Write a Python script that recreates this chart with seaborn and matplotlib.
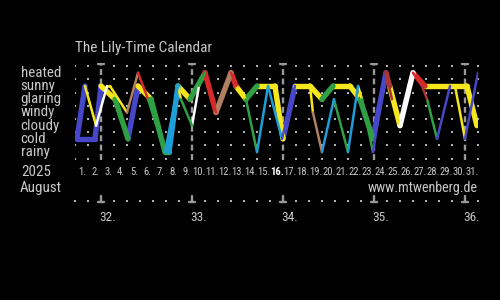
import numpy as np
import pandas as pd
import matplotlib
matplotlib.use("Agg")
import matplotlib.pyplot as plt
from matplotlib import font_manager
import seaborn as sns

# ---------------- data ----------------
levels = ["rainy", "cold", "cloudy", "windy", "glaring", "sunny", "heated"]
month_label = "August"
year_label = "2025"
title = "The Lily-Time Calendar"
site = "www.mtwenberg.de"
day_numbers = list(range(1, 32))
today = 16
week_numbers = [32, 33, 34, 35, 36]
week_days = [3, 10, 17, 24, 31]  # Sundays

# thick (main) course
thick_day = [0.65, 2.04, 2.5, 3.58, 4.58, 5.35, 6.35, 7.42, 7.73, 8.42, 9.35, 10.5,
             11.35, 12.5, 12.88, 13.65, 14.5, 15.88, 16.5, 17.42, 18.58, 19.5, 20.35,
             21.65, 22.42, 23.42, 24.42, 24.7, 25.5, 26.5, 27.42, 30.65, 31.42]
thick_level = [1, 1, 5, 4, 1, 5, 4, 0, 0, 5, 4, 6, 3, 6, 5, 4, 5, 5, 1, 5, 5, 4, 5,
               5, 4, 1, 6, 5, 2, 6, 5, 5, 2]
thick_kind = list("bbygbyggcygrnrygyybyygyygbdywryy")

# short thick start stroke
early_day = [0.65, 1.27]
early_level = [1, 5]
early_kind = list("b")

# thin (secondary) course
thin_day = [1.27, 2.12, 2.96, 3.19, 4.5, 5.35, 6.12, 7.42, 8.42, 8.65, 9.5, 10.04,
            10.5, 11.35, 12.5, 12.88, 13.65, 14.5, 15.35, 16.42, 17.42, 18.58, 18.8,
            19.5, 20.42, 21.5, 22.27, 22.58, 23.42, 24.42, 24.88, 25.5, 26.5, 27.19,
            27.58, 28.35, 29.35, 29.73, 30.5, 31.5]
thin_level = [5, 2, 5, 5, 3, 6, 4, 0, 5, 4, 2, 5, 6, 3, 6, 5, 4, 0, 5, 1, 5, 5, 3,
              0, 4, 0, 5, 4, 0, 6, 4, 2, 6, 5, 4, 1, 5, 5, 1, 6]
thin_kind = list("ywyynrgcygwgrnrygccbyyncgcygbdywrdgbyyb")

palette = {"b": "#4646c8", "y": "#f5e61e", "g": "#2ea043", "c": "#1e9ed8",
           "r": "#d42a2a", "n": "#b08060", "w": "#ffffff", "d": "#a83434"}


def seg_frame(days, lv, kinds):
    rows = []
    for i, k in enumerate(kinds):
        rows.append((i, days[i], lv[i], k))
        rows.append((i, days[i + 1], lv[i + 1], k))
    return pd.DataFrame(rows, columns=["seg", "day", "level", "kind"])


# ---------------- figure ----------------
sns.set_style("dark")
installed = {f.name for f in font_manager.fontManager.ttflist}
narrow = None
for cand in ["Liberation Sans Narrow", "DejaVu Sans Condensed", "Roboto Condensed",
             "Open Sans Condensed"]:
    if cand in installed:
        narrow = cand
        break
plt.rcParams["font.family"] = [narrow or "DejaVu Sans", "DejaVu Sans"]
day_fs = 7.7 if narrow else 6.3
lab_fs = 10.8 if narrow else 9
txt = "#c8c8c8"
grey = "#9a9a9a"
dotc = "#b0b0b0"

fig = plt.figure(figsize=(5, 3), dpi=100, facecolor="black")
ax = fig.add_axes([0.15, 1 - 160 / 300, 0.806, 97 / 300])
ax.set_facecolor("black")
ax.set_xlim(0.5, 31.5)
ax.set_ylim(-0.6, 6.74)
for s in ax.spines.values():
    s.set_visible(False)
ax.set_xticks([])
ax.set_yticks([])
ax.grid(False)

# dot grid
bx = np.arange(0.5, 32, 1.0)
by = np.arange(-0.5, 7, 1.0)
week_bounds = [w - 0.5 for w in week_days]
wx = [b for b in bx if b not in week_bounds]
gx, gy = np.meshgrid(wx, by)
ax.scatter(gx.ravel(), gy.ravel(), s=2.6, color=dotc, marker="s", lw=0, zorder=1)

# week dashed lines
for wb in week_bounds:
    ax.plot([wb, wb], [-0.6, 6.62], color=grey, lw=1.7, ls=(0, (2.5, 1.5)), zorder=1)
    ax.plot([wb - 0.2, wb + 0.2], [6.7, 6.7], color=grey, lw=1.7, zorder=1)

# lines
for days, lv, kinds, lw in [(thick_day, thick_level, thick_kind, 3.9),
                            (early_day, early_level, early_kind, 3.9),
                            (thin_day, thin_level, thin_kind, 1.8)]:
    df = seg_frame(days, lv, kinds)
    sns.lineplot(data=df, x="day", y="level", hue="kind", units="seg",
                 estimator=None, sort=False, palette=palette, legend=False,
                 linewidth=lw, ax=ax, zorder=3,
                 solid_capstyle="round", solid_joinstyle="round")
ax.set_xlabel("")
ax.set_ylabel("")

# level labels
for i, name in enumerate(levels):
    ax.text(-3.68, i, name, color=txt, fontsize=lab_fs, ha="left", va="center",
            clip_on=False)

# day labels
for d in day_numbers:
    ax.text(d + 0.05, -1.5, f"{d}.", color="white" if d == today else txt,
            fontsize=day_fs, ha="center", va="center", clip_on=False,
            fontweight="bold" if d == today else "normal")

ax.text(-3.6, -1.5, year_label, color=txt, fontsize=lab_fs, ha="left", va="center", clip_on=False)
ax.text(-3.72, -2.73, month_label, color=txt, fontsize=lab_fs, ha="left", va="center", clip_on=False)
ax.text(31.45, -2.7, site, color=txt, fontsize=10.2, ha="right", va="center", clip_on=False)

# week row
ax.scatter(wx, [-3.7] * len(wx), s=2.6, color=dotc, marker="s", lw=0, clip_on=False)
for wb, wn, wd in zip(week_bounds, week_numbers, week_days):
    ax.plot([wb, wb], [-3.3, -3.78], color=grey, lw=1.7, clip_on=False)
    ax.plot([wb - 0.2, wb + 0.2], [-3.78, -3.78], color=grey, lw=1.7, clip_on=False)
    ax.text(wd, -4.92, f"{wn}.", color=txt, fontsize=9.5, ha="center", va="center",
            clip_on=False)

fig.text(75 / 500, 1 - 48 / 300, title, color=txt, fontsize=11, ha="left", va="center")

fig.savefig("out.png", dpi=100, facecolor="black")
